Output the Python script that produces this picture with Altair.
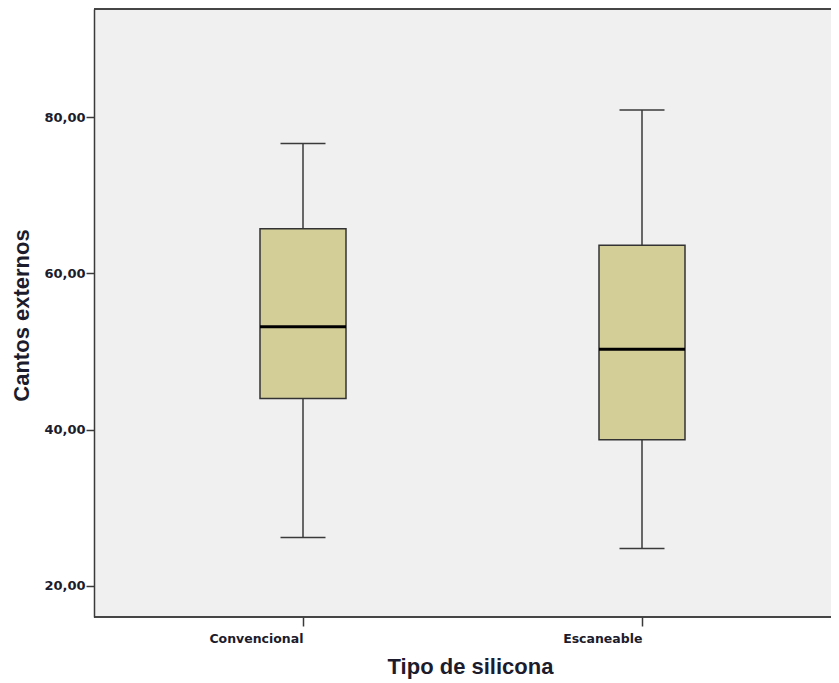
import altair as alt
import pandas as pd

categories = ["Convencional", "Escaneable"]
whisker_low = [26.2, 24.8]
q1 = [44.0, 38.7]
median = [53.15, 50.3]
q3 = [65.7, 63.6]
whisker_high = [76.6, 80.9]
y_ticks = [20, 40, 60, 80]

df = pd.DataFrame({
    "cat": categories,
    "low": whisker_low,
    "q1": q1,
    "med": median,
    "q3": q3,
    "high": whisker_high,
})

W, H = 737, 608
TXT = "#1c1c2c"
LINE = "#3a3a3a"

x_scale = alt.Scale(type="point", range=[209, 548], padding=0)

x_enc = alt.X(
    "cat:N",
    sort=categories,
    scale=x_scale,
    axis=alt.Axis(
        title="Tipo de silicona",
        labelAngle=0,
        labelFont="DejaVu Sans",
        labelFontSize=12.5,
        labelFontWeight="bold",
        labelColor=TXT,
        labelBaseline="alphabetic",
        labelPadding=16,
        tickSize=9,
        tickWidth=1.5,
        tickColor=LINE,
        domain=False,
        titleFont="Liberation Sans",
        titleFontSize=22,
        titleFontWeight="bold",
        titleColor=TXT,
        titleBaseline="alphabetic",
        titleX=376,
        titleY=56,
        titleAlign="center",
    ),
)

y_scale = alt.Scale(domain=[16.03, 93.82], nice=False, zero=False)

base = alt.Chart(df)
xs = alt.X("cat:N", sort=categories, scale=x_scale)

boxes = base.mark_bar(size=86, fill="#D3CE97", stroke="#333333", strokeWidth=1.5).encode(
    x=x_enc,
    y=alt.Y(
        "q1:Q",
        scale=y_scale,
        axis=alt.Axis(
            title="Cantos externos",
            values=y_ticks,
            labelExpr="replace(format(datum.value, '.2f'), '.', ',')",
            labelFont="DejaVu Sans",
            labelFontSize=13,
            labelFontWeight="bold",
            labelColor=TXT,
            labelPadding=1,
            tickSize=8,
            tickWidth=1.5,
            tickColor=LINE,
            domainColor=LINE,
            domainWidth=1.5,
            grid=False,
            titleFont="Liberation Sans",
            titleFontSize=22,
            titleFontWeight="bold",
            titleColor=TXT,
            titleBaseline="alphabetic",
            titleX=-66,
            titleY=H / 2 + 2,
            titleAlign="center",
        ),
    ),
    y2="q3:Q",
)

whisk_lo = base.mark_rule(color=LINE, strokeWidth=1.5).encode(x=xs, y="low:Q", y2="q1:Q")
whisk_hi = base.mark_rule(color=LINE, strokeWidth=1.5).encode(x=xs, y="q3:Q", y2="high:Q")
cap_lo = base.mark_tick(size=45, thickness=1.5, color=LINE, opacity=1).encode(x=xs, y="low:Q")
cap_hi = base.mark_tick(size=45, thickness=1.5, color=LINE, opacity=1).encode(x=xs, y="high:Q")
med = base.mark_tick(size=86, thickness=3, color="#000000", opacity=1).encode(x=xs, y="med:Q")
top_border = base.mark_rule(color=LINE, strokeWidth=1.5).encode(
    x=alt.value(0), x2=alt.value(W), y=alt.value(0)
)
bottom_border = base.mark_rule(color=LINE, strokeWidth=1.5).encode(
    x=alt.value(0), x2=alt.value(W), y=alt.value(H)
)

chart = (
    alt.layer(whisk_lo, whisk_hi, boxes, cap_lo, cap_hi, med, top_border, bottom_border)
    .properties(
        width=W,
        height=H,
        autosize=alt.AutoSizeParams(type="none"),
        padding={"left": 86, "top": 1, "right": 0, "bottom": 62},
        background="white",
    )
    .configure_view(fill="#F0F0F0", strokeWidth=0)
)

chart.save("out.html", embed_options={"renderer": "svg", "actions": False})
